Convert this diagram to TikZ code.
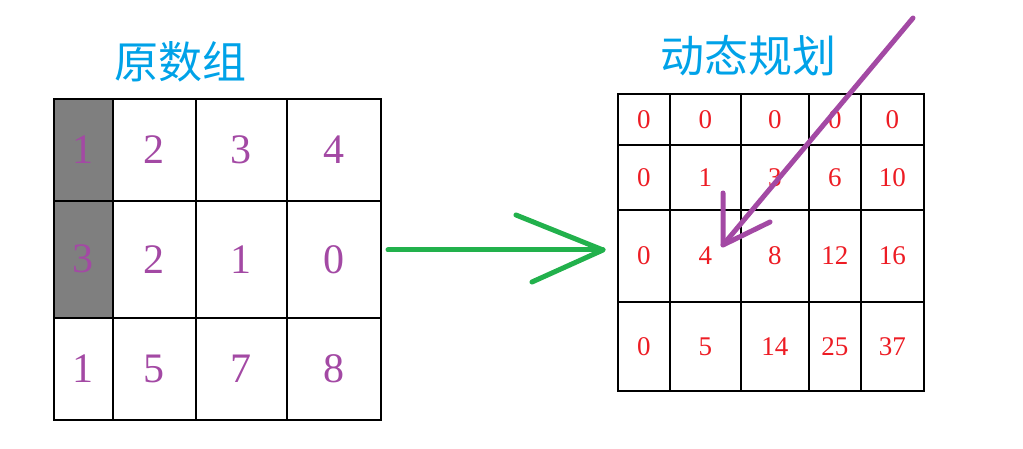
\documentclass[tikz,border=0pt]{standalone}
\usepackage{fontspec}
\setmainfont{Liberation Serif}
\newfontfamily\cjkfont{Noto Sans CJK SC}
\definecolor{titleblue}{HTML}{00A2E8}
\definecolor{numpurple}{HTML}{A349A4}
\definecolor{numred}{HTML}{ED1C24}
\definecolor{arrowgreen}{HTML}{22B14C}
\definecolor{cellgray}{HTML}{7F7F7F}
\begin{document}
\begin{tikzpicture}[x=1pt,y=-1pt,
    cell/.style={draw, line width=1.6pt, inner sep=0pt, anchor=north west},
    shaded/.style={fill=cellgray},
    leftnum/.style={text=numpurple, font=\fontsize{42}{42}\selectfont},
    rightnum/.style={text=numred, font=\fontsize{27}{27}\selectfont},
    title/.style={text=titleblue, font=\cjkfont\fontsize{44}{44}\selectfont},
    hand/.style={line width=5pt, line cap=round, line join=round}]
  \useasboundingbox (0,0) rectangle (1023,449);
  % column and row borders, in pixels of the sketch
  \def\lx{{53,112,195,286,380}}
  \def\ly{{98,200,317,419}}
  \def\rx{{617,669,740,808,860,923}}
  \def\ry{{93,144,209,301,390}}
  % titles
  \node[title] (origtitle) at (180,62) {原数组};
  \node[title] (dptitle) at (748,56) {动态规划};
  % original array
  \foreach \vals [count=\r] in {{1,2,3,4},{3,2,1,0},{1,5,7,8}} {
    \foreach \v [count=\c] in \vals {
      \pgfmathsetmacro\xa{\lx[\c-1]}
      \pgfmathsetmacro\xb{\lx[\c]}
      \pgfmathsetmacro\ya{\ly[\r-1]}
      \pgfmathsetmacro\yb{\ly[\r]}
      \ifnum\c=1 \ifnum\r<3 \def\cf{shaded}\else\def\cf{}\fi\else\def\cf{}\fi
      \node[cell, leftnum, \cf, minimum width={\xb-\xa}, minimum height={\yb-\ya}]
        (L\r\c) at (\xa,\ya) {\v};
    }
  }
  % dp table
  \foreach \vals [count=\r] in {{0,0,0,0,0},{0,1,3,6,10},{0,4,8,12,16},{0,5,14,25,37}} {
    \foreach \v [count=\c] in \vals {
      \pgfmathsetmacro\xa{\rx[\c-1]}
      \pgfmathsetmacro\xb{\rx[\c]}
      \pgfmathsetmacro\ya{\ry[\r-1]}
      \pgfmathsetmacro\yb{\ry[\r]}
      \node[cell, rightnum, minimum width={\xb-\xa}, minimum height={\yb-\ya}]
        (R\r\c) at (\xa,\ya) {\v};
    }
  }
  % green arrow
  \coordinate (gstart) at (388,250);
  \coordinate (gtip) at (603,250);
  \coordinate (gup) at (516,215);
  \coordinate (gdown) at (532,282);
  \draw[hand, arrowgreen] (gstart) -- (gtip);
  \draw[hand, arrowgreen] (gup) -- (gtip) -- (gdown);
  % purple arrow
  \coordinate (pstart) at (913,18);
  \coordinate (ptip) at (723,245);
  \coordinate (pleft) at (723,193);
  \coordinate (pright) at (770,222);
  \draw[hand, numpurple] (pstart) -- (ptip);
  \draw[hand, numpurple] (pleft) -- (ptip) -- (pright);
\end{tikzpicture}
\end{document}
